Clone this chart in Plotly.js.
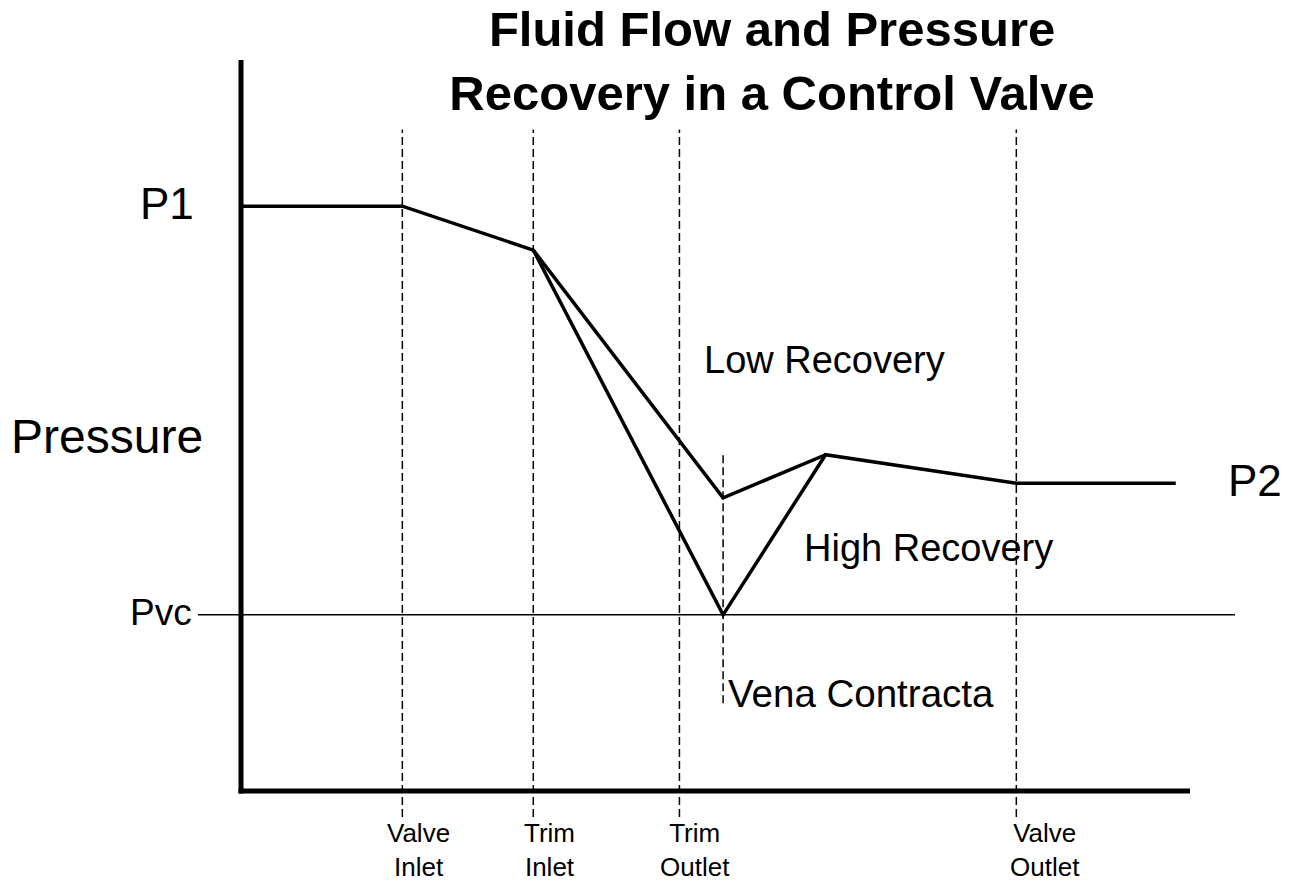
<!DOCTYPE html>
<html>
<head>
<meta charset="utf-8">
<script src="https://cdn.plot.ly/plotly-3.0.1.min.js"></script>
<style>html,body{margin:0;padding:0;background:#fff;}#chart{width:1298px;height:883px;}</style>
</head>
<body>
<div id="chart"></div>
<script>
// ---- data (arbitrary position along the valve / pressure units) ----
const stationNames = ["Valve<br>Inlet", "Trim<br>Inlet", "Trim<br>Outlet", "Valve<br>Outlet"];
const stationX = [17.0, 30.8, 46.2, 81.7];
const venaX = 50.8;
const P1 = 80.0;
const P2 = 42.1;
const Pvc = 24.1;
// high recovery path (full profile)
const highX = [0, 17.0, 30.8, 50.8, 61.6, 81.7, 98.5];
const highY = [80.0, 80.0, 74.0, 24.1, 46.0, 42.1, 42.1];
// low recovery branch
const lowX = [30.8, 50.8, 61.6];
const lowY = [74.0, 40.1, 46.0];

const FONT = "Liberation Sans, Arial, Helvetica, sans-serif";
const traces = [
  {x: highX, y: highY, mode: "lines", line: {color: "#000", width: 3.5}, hoverinfo: "skip", name: "High Recovery"},
  {x: lowX, y: lowY, mode: "lines", line: {color: "#000", width: 3.5}, hoverinfo: "skip", name: "Low Recovery"}
];

const shapes = [];
// station dashed lines
stationX.forEach(v => shapes.push({type: "line", xref: "x", yref: "paper", x0: v, x1: v, y0: -0.0356, y1: 0.905,
  line: {color: "#000", width: 1.5, dash: "8px,4px"}, layer: "below"}));
// vena contracta dashed line
shapes.push({type: "line", xref: "x", yref: "y", x0: venaX, x1: venaX, y0: 12.0, y1: 46.2,
  line: {color: "#000", width: 1.5, dash: "8px,4px"}, layer: "below"});
// Pvc reference line
shapes.push({type: "line", xref: "paper", yref: "y", x0: -0.0453, x1: 1.0474, y0: Pvc, y1: Pvc,
  line: {color: "#000", width: 1.5}, layer: "below"});
// axis lines
shapes.push({type: "line", xref: "paper", yref: "paper", x0: 0, x1: 0, y0: -0.0034, y1: 1,
  line: {color: "#000", width: 5}});
shapes.push({type: "line", xref: "paper", yref: "paper", x0: -0.0026, x1: 1, y0: 0, y1: 0,
  line: {color: "#000", width: 5}});

const annotations = [];
stationX.forEach((v, i) => annotations.push({xref: "x", yref: "paper", x: v, y: -0.034, xanchor: "center", yanchor: "top",
  text: stationNames[i], showarrow: false, xshift: i === 3 ? 29 : 16, font: {family: FONT, size: 26, color: "#000"}, align: "center"}));
const big = {family: FONT, size: 44, color: "#000"};
annotations.push({xref: "paper", yref: "y", x: -0.047, y: P1, xanchor: "right", yanchor: "middle", yshift: 3, text: "P1", showarrow: false, font: big});
annotations.push({xref: "paper", yref: "y", x: -0.05, y: Pvc, xanchor: "right", yanchor: "middle", yshift: 2, text: "Pvc", showarrow: false, font: {family: FONT, size: 37, color: "#000"}});
annotations.push({xref: "paper", yref: "y", x: 1.0379, y: P2, xanchor: "left", yanchor: "middle", yshift: 3, text: "P2", showarrow: false, font: big});
annotations.push({xref: "paper", yref: "paper", x: -0.2445, y: 0.485, xanchor: "left", yanchor: "middle", text: "Pressure", showarrow: false, font: {family: FONT, size: 48, color: "#000"}});
const mid = {family: FONT, size: 38, color: "#000"};
annotations.push({xref: "paper", yref: "paper", x: 0.4858, y: 0.5896, xanchor: "left", yanchor: "middle", text: "Low Recovery", showarrow: false, font: mid});
annotations.push({xref: "paper", yref: "paper", x: 0.5915, y: 0.3324, xanchor: "left", yanchor: "middle", text: "High Recovery", showarrow: false, font: mid});
annotations.push({xref: "paper", yref: "paper", x: 0.5110, y: 0.1340, xanchor: "left", yanchor: "middle", text: "Vena Contracta", showarrow: false, font: {family: FONT, size: 38.5, color: "#000"}});

const layout = {
  width: 1298, height: 883,
  margin: {l: 241, r: 108, t: 60, b: 92, pad: 0},
  paper_bgcolor: "#fff", plot_bgcolor: "#fff",
  showlegend: false,
  title: {text: "<b>Fluid Flow and Pressure<br>Recovery in a Control Valve</b>", x: 0.5948, xanchor: "center",
    xref: "container", y: 0.948, yref: "container", yanchor: "top", pad: {t: 0, b: 0},
    font: {family: FONT, size: 49, color: "#000"}},
  xaxis: {range: [0, 100], visible: false, fixedrange: true},
  yaxis: {range: [0, 100], visible: false, fixedrange: true},
  shapes: shapes,
  annotations: annotations
};
Plotly.newPlot("chart", traces, layout, {displayModeBar: false, staticPlot: true});
</script>
</body>
</html>
